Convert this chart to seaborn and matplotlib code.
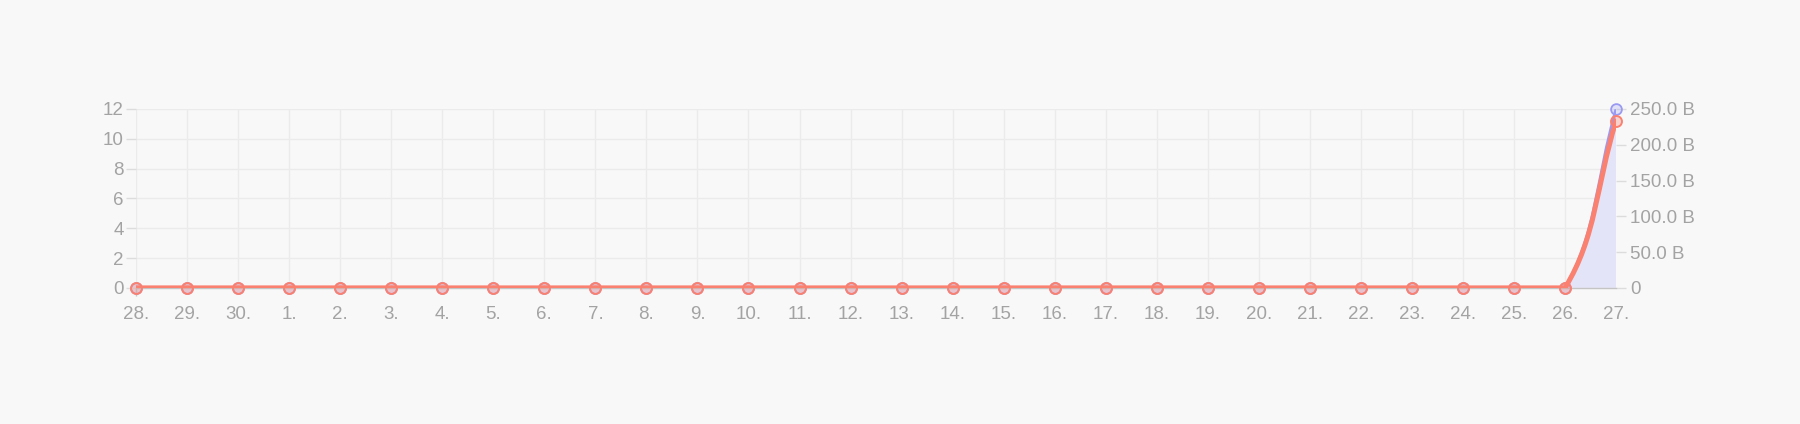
import numpy as np
import pandas as pd
import seaborn as sns
import matplotlib
matplotlib.use("Agg")
import matplotlib.pyplot as plt
from matplotlib.path import Path
from matplotlib.patches import PathPatch
from matplotlib.ticker import FuncFormatter, MultipleLocator

# Data
days = ["28.", "29.", "30."] + [f"{d}." for d in range(1, 28)]
requests = [0] * 29 + [11.2]          # red, left axis
traffic_gb = [0] * 29 + [249.5]       # blue, right axis (in billions of bytes)

df = pd.DataFrame({"day": days, "idx": range(len(days)),
                   "requests": requests, "traffic": traffic_gb})

BG = "#f8f8f8"
GRID = "#ebebeb"
TXT = "#a3a3a3"
RED = "#fa8070"
BLUE = "#9a9af2"
FILL = "#e4e4f8"

FIG_W, FIG_H = 1800, 424
AX_RECT = [0.0756, 0.321, 0.8222, 0.422]

sns.set_theme(style="white")
plt.rcParams["font.family"] = ["Liberation Sans", "DejaVu Sans"]


def spline_path(x, y, ymax, tension=0.4):
    # Chart.js style cardinal spline, computed in pixel space
    n = len(x)
    sx = AX_RECT[2] * FIG_W / (n - 1)
    sy = AX_RECT[3] * FIG_H / ymax
    p = np.column_stack([np.asarray(x, float) * sx, np.asarray(y, float) * sy])
    cp_prev = np.zeros_like(p)
    cp_next = np.zeros_like(p)
    for i in range(n):
        prev = p[max(i - 1, 0)]
        nxt = p[min(i + 1, n - 1)]
        d01 = np.hypot(*(p[i] - prev))
        d12 = np.hypot(*(nxt - p[i]))
        tot = d01 + d12
        s01 = d01 / tot if tot else 0
        s12 = d12 / tot if tot else 0
        cp_prev[i] = p[i] - tension * s01 * (nxt - prev)
        cp_next[i] = p[i] + tension * s12 * (nxt - prev)
    top = ymax * sy
    for cp in (cp_prev, cp_next):
        cp[:, 1] = np.clip(cp[:, 1], 0, top)
        cp[:, 0] = np.clip(cp[:, 0], 0, p[-1, 0])
    scale = np.array([sx, sy])
    verts = [tuple(p[0] / scale)]
    codes = [Path.MOVETO]
    for i in range(n - 1):
        verts += [tuple(cp_next[i] / scale), tuple(cp_prev[i + 1] / scale),
                  tuple(p[i + 1] / scale)]
        codes += [Path.CURVE4] * 3
    return verts, codes


fig = plt.figure(figsize=(FIG_W / 100, FIG_H / 100), dpi=100, facecolor=BG)

# background grid layer
axg = fig.add_axes(AX_RECT, zorder=0, facecolor=BG)
axg.set_xlim(0, len(days) - 1)
axg.set_ylim(0, 12)
axg.set_xticks(df["idx"])
axg.yaxis.set_major_locator(MultipleLocator(2))
axg.grid(True, color=GRID, lw=1)
axg.tick_params(length=0, labelleft=False, labelbottom=False)
for s in axg.spines.values():
    s.set_visible(False)

ax = fig.add_axes(AX_RECT)
ax2 = ax.twinx()
ax2.set_zorder(1)
ax.set_zorder(2)
ax.patch.set_visible(False)
ax2.patch.set_visible(False)

# blue series (right axis) with fill
v, c = spline_path(df["idx"], df["traffic"], 250)
fill_verts = v + [(df["idx"].iloc[-1], 0), (df["idx"].iloc[0], 0), v[0]]
fill_codes = c + [Path.LINETO, Path.LINETO, Path.CLOSEPOLY]
ax2.add_patch(PathPatch(Path(fill_verts, fill_codes), facecolor=FILL,
                        edgecolor="none", zorder=1))
ax2.add_patch(PathPatch(Path(v, c), facecolor="none", edgecolor=BLUE,
                        lw=2.2, zorder=2))
sns.scatterplot(data=df, x="idx", y="traffic", ax=ax2, s=60,
                facecolor=(0.6, 0.6, 0.95, 0.25), edgecolor=BLUE,
                linewidth=1.3, zorder=3, clip_on=False)

# red series (left axis)
v, c = spline_path(df["idx"], df["requests"], 12)
ax.add_patch(PathPatch(Path(v, c), facecolor="none", edgecolor=RED,
                       lw=3.6, zorder=4, capstyle="round"))
sns.scatterplot(data=df, x="idx", y="requests", ax=ax, s=62,
                facecolor=(0.98, 0.5, 0.44, 0.3), edgecolor=RED,
                linewidth=1.4, zorder=5, clip_on=False)

# axes setup
ax.set_xlim(0, len(days) - 1)
ax.set_ylim(0, 12)
ax2.set_ylim(0, 250)
ax.set_xticks(df["idx"])
ax.set_xticklabels(days)
ax.yaxis.set_major_locator(MultipleLocator(2))
ax2.yaxis.set_major_locator(MultipleLocator(50))
ax2.yaxis.set_major_formatter(
    FuncFormatter(lambda val, p: "0" if val == 0 else f"{val:.1f} B"))
ax.set_xlabel("")
ax.set_ylabel("")
ax2.set_xlabel("")
ax2.set_ylabel("")

for a in (ax, ax2):
    for s in a.spines.values():
        s.set_visible(False)
ax.spines["bottom"].set_visible(True)
ax.spines["bottom"].set_color("#c4c4c4")
ax.spines["bottom"].set_linewidth(1)

ax.tick_params(axis="y", length=7, width=1, color="#dcdcdc", pad=2,
               labelsize=13.5, labelcolor=TXT, left=True)
ax2.tick_params(axis="y", length=7, width=1, color="#dcdcdc", pad=3,
                labelsize=13.5, labelcolor=TXT, right=True)
ax.tick_params(axis="x", length=6, width=1, color="#c4c4c4", pad=7,
               labelsize=13.5, labelcolor=TXT, bottom=True)
for i, t in enumerate(ax.xaxis.get_major_ticks()):
    if i > 0:
        t.tick1line.set_visible(False)
ax.grid(False)
ax2.grid(False)

fig.savefig("out.png", dpi=100, facecolor=BG)
